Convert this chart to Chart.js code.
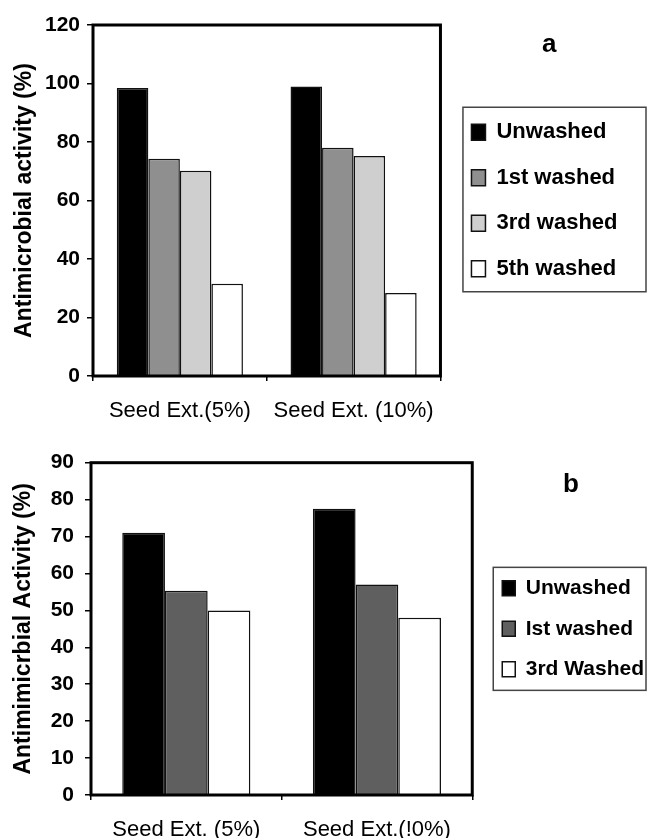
<!DOCTYPE html>
<html>
<head>
<meta charset="utf-8">
<script src="https://cdn.jsdelivr.net/npm/chart.js@4"></script>
<style>
html,body{margin:0;padding:0;background:#fff;width:647px;height:838px;overflow:hidden;position:relative;}
#wrapA{position:absolute;left:-600px;top:0;width:1265px;height:425px;}
#wrapB{position:absolute;left:-600px;top:425px;width:1265px;height:413px;}
.panel{position:absolute;font-family:"Liberation Sans",Arial,sans-serif;font-weight:bold;font-size:26px;line-height:26px;color:#000;}
</style>
</head>
<body>
<div id="wrapA"><canvas id="chartA" width="1265" height="425"></canvas></div>
<div id="wrapB"><canvas id="chartB" width="1265" height="413"></canvas></div>
<div class="panel" style="left:542px;top:30px;">a</div>
<div class="panel" style="left:563px;top:470px;">b</div>
<script>
// ---- Panel a data ----
const categoriesA = ["Seed Ext.(5%)", "Seed Ext. (10%)"];
const seriesNamesA = ["Unwashed", "1st washed", "3rd washed", "5th washed"];
const unwashedA = [98.5, 99];
const washed1A = [74.3, 78];
const washed3A = [70.2, 75.2];
const washed5A = [31.5, 28.4];
const yTicksA = [0, 20, 40, 60, 80, 100, 120];
const yTitleA = "Antimicrobial activity (%)";

// ---- Panel b data ----
const categoriesB = ["Seed Ext. (5%)", "Seed Ext.(!0%)"];
const seriesNamesB = ["Unwashed", "Ist washed", "3rd Washed"];
const unwashedB = [71, 77.5];
const washed1B = [55.3, 57];
const washed3B = [50, 48];
const yTicksB = [0, 10, 20, 30, 40, 50, 60, 70, 80, 90];
const yTitleB = "Antimimicrbial Activity (%)";

// canvas is shifted left by this many px (extra room so the legend is not squeezed)
const SHIFT = 600;
const FONT = "'Liberation Sans', Arial, sans-serif";
Chart.defaults.font.family = FONT;
Chart.defaults.color = "#000";

const framePlugin = {
  id: "frame",
  afterDatasetsDraw(chart) {
    const a = chart.chartArea, ctx = chart.ctx;
    ctx.save();
    ctx.strokeStyle = "#000";
    ctx.lineWidth = 3;
    ctx.strokeRect(a.left, a.top, a.right - a.left, a.bottom - a.top);
    ctx.restore();
  }
};

function legendBox(padLeft, padTop, padBottom, right) {
  return {
    id: "legendBox",
    afterDraw(chart) {
      const lg = chart.legend;
      const hb = lg && lg.legendHitBoxes;
      if (!hb || !hb.length) return;
      const first = hb[0], last = hb[hb.length - 1];
      const x0 = first.left - padLeft;
      const y0 = first.top - padTop;
      const y1 = last.top + last.height + padBottom;
      const ctx = chart.ctx;
      ctx.save();
      ctx.strokeStyle = "#444";
      ctx.lineWidth = 1.5;
      ctx.strokeRect(x0, y0, right - x0, y1 - y0);
      ctx.restore();
    }
  };
}

function makeChart(id, cfg) {
  const datasets = cfg.series.map((vals, i) => ({
    label: cfg.names[i],
    data: vals,
    backgroundColor: cfg.colors[i],
    borderColor: "#111",
    borderWidth: 1.5,
    categoryPercentage: cfg.catPct,
    barPercentage: 1
  }));
  return new Chart(document.getElementById(id), {
    type: "bar",
    data: { labels: cfg.categories, datasets },
    plugins: [framePlugin, legendBox(cfg.boxPadLeft, cfg.boxPadTop, cfg.boxPadBottom, SHIFT + 646)],
    options: {
      responsive: false,
      animation: false,
      layout: { padding: { top: cfg.padTop, right: cfg.padRight, left: 0, bottom: 0 } },
      plugins: {
        legend: {
          position: "right",
          fullSize: false,
          align: "center",
          labels: {
            font: { size: cfg.legendFont, weight: "bold" },
            color: "#000",
            boxWidth: cfg.boxW,
            boxHeight: cfg.boxH,
            padding: cfg.legendPad
          }
        },
        tooltip: { enabled: false }
      },
      scales: {
        x: {
          grid: { offset: true, drawOnChartArea: false, drawTicks: true, tickLength: 5, tickColor: "#000", lineWidth: 1.5 },
          border: { display: false },
          ticks: { font: { size: 22 }, color: "#000", padding: cfg.xPad, maxRotation: 0, autoSkip: false },
          afterFit(s) { s.height = cfg.xHeight; }
        },
        y: {
          min: cfg.yTicks[0],
          max: cfg.yTicks[cfg.yTicks.length - 1],
          afterBuildTicks(s) { s.ticks = cfg.yTicks.map(v => ({ value: v })); },
          grid: { drawOnChartArea: false, drawTicks: true, tickLength: 6, tickColor: "#000", lineWidth: 1.5 },
          border: { display: false },
          ticks: { font: { size: 21, weight: "bold" }, color: "#000", padding: cfg.yPad },
          title: {
            display: true,
            text: cfg.yTitle,
            font: { size: 23, weight: "bold" },
            color: "#000",
            padding: { top: SHIFT + cfg.titlePad, bottom: 0 }
          },
          afterFit(s) { s.width = SHIFT + cfg.yWidth; }
        },
        yR: {
          position: "right",
          display: true,
          grid: { display: false },
          border: { display: false },
          ticks: { display: false },
          afterFit(s) { s.width = cfg.gapRight; }
        }
      }
    }
  });
}

makeChart("chartA", {
  categories: categoriesA,
  names: seriesNamesA,
  series: [unwashedA, washed1A, washed3A, washed5A],
  colors: ["#000000", "#8f8f8f", "#cfcfcf", "#ffffff"],
  yTicks: yTicksA,
  yTitle: yTitleA,
  catPct: 0.726,
  padTop: 25,
  padRight: 37.5,
  legendFont: 22,
  boxW: 14,
  boxH: 16,
  legendPad: 23.5,
  boxPadLeft: 8.5,
  boxPadTop: 14,
  boxPadBottom: 12,
  xPad: 16.8,
  xHeight: 49,
  yPad: 7,
  yWidth: 93,
  titlePad: 10.5,
  gapRight: 7.5
});

makeChart("chartB", {
  categories: categoriesB,
  names: seriesNamesB,
  series: [unwashedB, washed1B, washed3B],
  colors: ["#000000", "#5f5f5f", "#ffffff"],
  yTicks: yTicksB,
  yTitle: yTitleB,
  catPct: 0.672,
  padTop: 37.7,
  padRight: 11,
  legendFont: 21,
  boxW: 13,
  boxH: 15,
  legendPad: 19.5,
  boxPadLeft: 9,
  boxPadTop: 10.5,
  boxPadBottom: 10.5,
  xPad: 16.8,
  xHeight: 43,
  yPad: 11,
  yWidth: 91,
  titlePad: 9.5,
  gapRight: 10.5
});
</script>
</body>
</html>
